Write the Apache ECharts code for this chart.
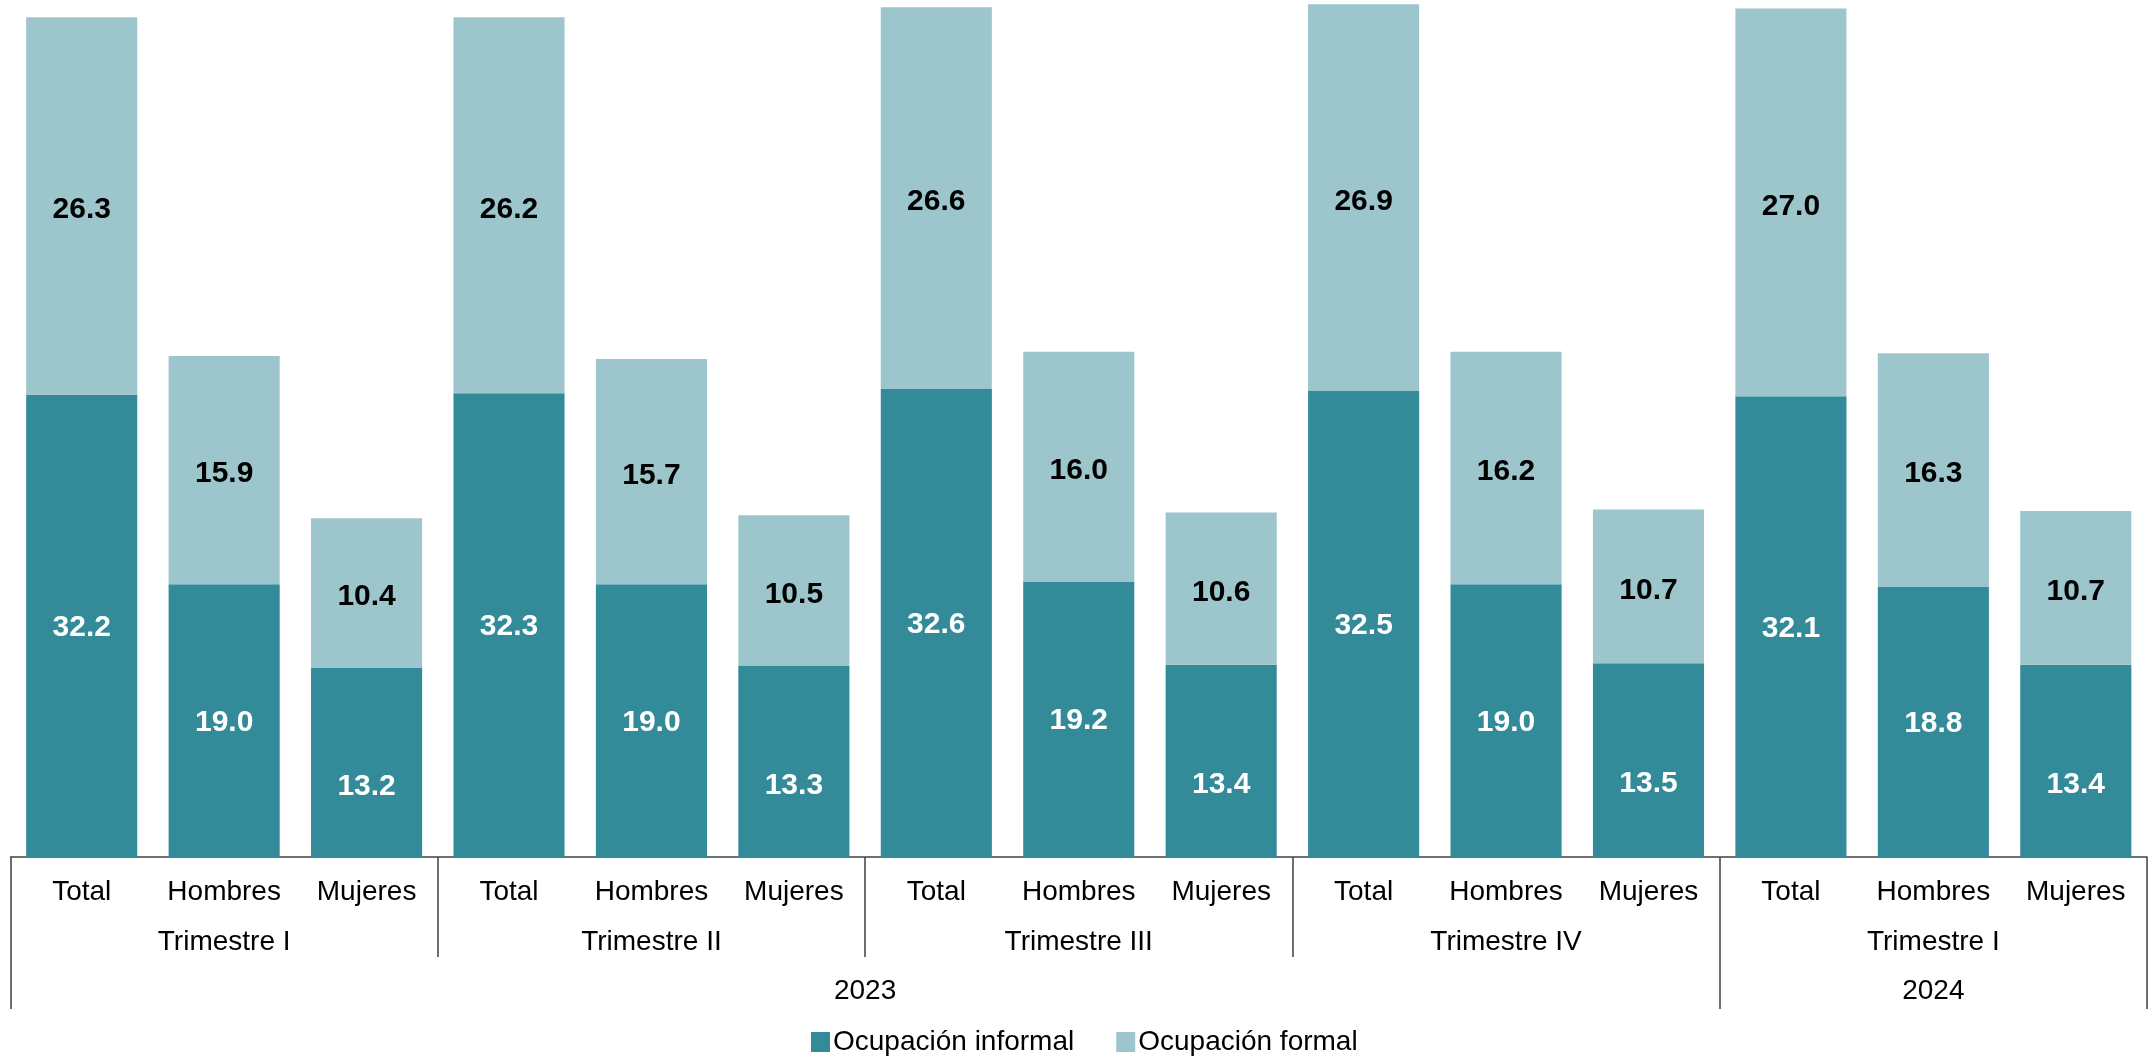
<!DOCTYPE html>
<html>
<head>
<meta charset="utf-8">
<script src="https://cdn.jsdelivr.net/npm/echarts@6/dist/echarts.min.js"></script>
<style>
html,body{margin:0;padding:0;background:#fff;}
#chart{width:2152px;height:1057px;}
</style>
</head>
<body>
<div id="chart"></div>
<script>
// ---- data ----
const categories = ['Total','Hombres','Mujeres','Total','Hombres','Mujeres','Total','Hombres','Mujeres','Total','Hombres','Mujeres','Total','Hombres','Mujeres'];
const trimestres = ['Trimestre I','Trimestre II','Trimestre III','Trimestre IV','Trimestre I'];
const years = ['2023','2024'];
const yearLabelPositions = [6, 13.5];   // centre of each year group, in category units
const yearBoundaries = [0, 12, 15];     // group edges, in category units
const informal = [32.2,19.0,13.2, 32.3,19.0,13.3, 32.6,19.2,13.4, 32.5,19.0,13.5, 32.1,18.8,13.4];
const formal   = [26.3,15.9,10.4, 26.2,15.7,10.5, 26.6,16.0,10.6, 26.9,16.2,10.7, 27.0,16.3,10.7];
const seriesNames = ['Ocupación informal','Ocupación formal'];

const FONT = '"Liberation Sans", Arial, sans-serif';
const DARK = '#338B99';
const LIGHT = '#9CC5CC';
const LINE = '#404040';

// Mujeres informal labels sit lower in their segment in the original
const informalData = informal.map((v, i) => categories[i] === 'Mujeres'
  ? {value: v, label: {offset: [0, 24]}} : v);

const chart = echarts.init(document.getElementById('chart'), null, {renderer:'canvas'});
chart.setOption({
  animation: false,
  textStyle: {fontFamily: FONT},
  grid: {left: 10.5, right: 5, top: 0, bottom: 200, containLabel: false},
  legend: {
    data: seriesNames,
    left: 806, top: 1023,
    icon: 'rect', itemWidth: 19, itemHeight: 20, itemGap: 42,
    textStyle: {fontSize: 28, color: '#000', fontFamily: FONT, padding: [0,0,0,-2]}
  },
  xAxis: [
    {
      type: 'category', data: categories, position: 'bottom',
      axisLine: {show: true, lineStyle: {color: LINE, width: 1.5}},
      axisTick: {show: false},
      axisLabel: {fontSize: 28, color: '#000', margin: 21, interval: 0, fontFamily: FONT}
    },
    {
      type: 'category', data: trimestres, position: 'bottom',
      axisLine: {show: false},
      axisTick: {show: true, length: 100, lineStyle: {color: LINE, width: 1.5}},
      axisLabel: {fontSize: 28, color: '#000', margin: 71, interval: 0, fontFamily: FONT}
    },
    {
      type: 'value', min: 0, max: 15, position: 'bottom',
      axisLine: {show: false},
      splitLine: {show: false},
      axisTick: {show: true, length: 152, customValues: yearBoundaries, lineStyle: {color: LINE, width: 1.5}},
      axisLabel: {
        fontSize: 28, color: '#000', margin: 120, fontFamily: FONT,
        customValues: yearLabelPositions,
        formatter: function (v) { const i = yearLabelPositions.indexOf(v); return i >= 0 ? years[i] : ''; }
      }
    }
  ],
  yAxis: {type: 'value', min: 0, max: 59.7, show: false, splitLine: {show: false}},
  series: [
    {
      name: seriesNames[0], type: 'bar', stack: 'a', xAxisIndex: 0, data: informalData,
      barCategoryGap: '22%',
      itemStyle: {color: DARK},
      label: {show: true, position: 'inside', offset: [0, 2], color: '#fff', fontWeight: 'bold', fontSize: 30, fontFamily: FONT,
        formatter: p => Number(p.value).toFixed(1)}
    },
    {
      name: seriesNames[1], type: 'bar', stack: 'a', xAxisIndex: 0, data: formal,
      barCategoryGap: '22%',
      itemStyle: {color: LIGHT},
      label: {show: true, position: 'inside', offset: [0, 4], color: '#000', fontWeight: 'bold', fontSize: 30, fontFamily: FONT,
        formatter: p => Number(p.value).toFixed(1)}
    }
  ]
});
</script>
</body>
</html>
